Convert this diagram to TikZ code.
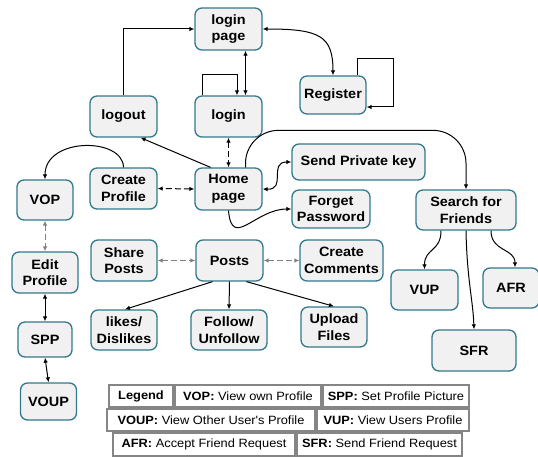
\documentclass[tikz,border=0pt]{standalone}
\usepackage{fontspec}
\setmainfont[FakeStretch=1.07]{Liberation Sans}
\usetikzlibrary{arrows.meta}

\definecolor{boxfill}{HTML}{F1F1F1}
\definecolor{boxline}{HTML}{33788C}
\definecolor{legline}{HTML}{858585}
\definecolor{dashgray}{HTML}{808080}

\tikzset{
  box/.style={draw=boxline, line width=1.3pt, fill=boxfill, rounded corners=7pt,
    align=center, inner sep=1pt, font=\bfseries\fontsize{13.5}{16.5}\selectfont},
  sz/.style 2 args={minimum width=#1pt, minimum height=#2pt},
  tip/.style={-{Latex[length=5pt,width=4.5pt]}},
  both/.style={{Latex[length=5pt,width=4.5pt]}-{Latex[length=5pt,width=4.5pt]}},
  conn/.style={line width=1pt, black},
  longdash/.style={dash pattern=on 6pt off 3pt},
  grayconn/.style={line width=1pt, dashgray, longdash},
  legbox/.style={draw=legline, line width=1.4pt, fill=white, inner sep=0pt,
    minimum height=22pt, font=\fontsize{12}{13}\selectfont}
}

\begin{document}
\begin{tikzpicture}[x=1pt, y=-1pt]
\useasboundingbox (0,0) rectangle (538,457);

% account pages
\node[box, sz={67}{42}] (lp)     at (228.5,29)  {login\\page};
\node[box, sz={66}{38}] (reg)    at (333,95)    {Register};
\node[box, sz={67}{41}] (logout) at (123.5,116.5) {logout};
\node[box, sz={67}{41}] (login)  at (228.5,116.5) {login};
\node[box, sz={67}{41}] (cp)     at (123.5,188.5) {Create\\Profile};
\node[box, sz={67}{42}] (home)   at (228.5,189) {Home\\page};
\node[box, sz={133}{36}] (spk)   at (358.5,162) {Send Private key};
\node[box, sz={78}{38}] (fp)     at (331,209)   {Forget\\Password};

% profile column
\node[box, sz={56}{40}] (vop)  at (45,200)    {VOP};
\node[box, sz={66}{41}] (ep)   at (45,272.5)  {Edit\\Profile};
\node[box, sz={54}{35}] (spp)  at (45,339.5)  {SPP};
\node[box, sz={56}{37}] (voup) at (48.5,401.5) {VOUP};

% posts
\node[box, sz={66}{41}] (sp)    at (124,260.5)   {Share\\Posts};
\node[box, sz={67}{41}] (posts) at (229.5,260.5) {Posts};
\node[box, sz={83}{41}] (cc)    at (341.5,260.5) {Create\\Comments};
\node[box, sz={66}{40}] (ld)    at (124,330)     {likes/\\Dislikes};
\node[box, sz={76}{40}] (fu)    at (229,330)     {Follow/\\Unfollow};
\node[box, sz={66}{40}] (uf)    at (334,327)     {Upload\\Files};

% friends
\node[box, sz={100}{40}] (sff) at (466,210)   {Search for\\Friends};
\node[box, sz={67}{40}]  (vup) at (424.5,290) {VUP};
\node[box, sz={56}{40}]  (afr) at (511,288)   {AFR};
\node[box, sz={84}{41}]  (sfr) at (474,350.5) {SFR};

% connectors: login area
\draw[conn,tip] (logout.north) |- (lp.west);
\draw[conn,both] ([xshift=17pt]lp.south) -- ([xshift=17pt]login.north);
\draw[conn,tip] ([xshift=-26pt]login.north) -- ++(0,-21) -| ([xshift=8.5pt]login.north);
\draw[conn,both,longdash] (login.south) -- (home.north);
\draw[conn,tip] ([xshift=-18pt]home.north) -- ([xshift=17pt]logout.south);
\draw[conn,both] (lp.east) .. controls (320,29) and (333,36) .. (reg.north);
\draw[conn,tip] ([xshift=24pt]reg.north) -- ++(0,-17) -- ++(36,0) |- ([yshift=-12pt]reg.east);

% connectors: home page
\draw[conn,both,longdash] (home.west) -- (cp.east);
\draw[conn,tip] (cp.north) .. controls (123,137) and (45,137) .. (vop.north);
\draw[conn,both] (home.east) .. controls (287,190) and (268,162) .. (spk.west);
\draw[conn,tip] (home.south) .. controls (232,250) and (255,209) .. (fp.west);
\draw[conn,tip,rounded corners=33pt] ([xshift=17pt]home.north) -- ++(0,-37) -| (sff.north);

% connectors: profile column
\draw[grayconn,both] (vop.south) -- (ep.north);
\draw[conn,both] (ep.south) -- (spp.north);
\draw[conn,both] (spp.south) -- (voup.north);

% connectors: posts
\draw[grayconn,both] (sp.east) -- (posts.west);
\draw[grayconn,both] (posts.east) -- (cc.west);
\draw[conn,tip] ([xshift=-17pt]posts.south) -- ([xshift=1pt]ld.north);
\draw[conn,tip] (posts.south) -- (fu.north);
\draw[conn,tip] ([xshift=17pt]posts.south) -- (uf.north);

% connectors: friends
\draw[conn,tip] ([xshift=-25pt]sff.south) .. controls (441,252) and (424.5,248) .. (vup.north);
\draw[conn,tip] (sff.south) .. controls (467,280) and (473,300) .. (sfr.north);
\draw[conn,tip] ([xshift=25pt]sff.south) .. controls (491,252) and (515,248) .. ([xshift=4pt]afr.north);

% legend
\node[legbox, minimum width=64pt]  (lg)    at (141,396)    {\textbf{Legend}};
\node[legbox, minimum width=146pt] (lvop)  at (248,396)    {\textbf{VOP:} View own Profile};
\node[legbox, minimum width=146pt] (lspp)  at (396,396)    {\textbf{SPP:} Set Profile Picture};
\node[legbox, minimum width=208pt] (lvoup) at (211,420)    {\textbf{VOUP:} View Other User\textquotesingle s Profile};
\node[legbox, minimum width=152pt] (lvup)  at (393,420)    {\textbf{VUP:} View Users Profile};
\node[legbox, minimum width=182pt, minimum height=23pt] (lafr) at (204,444.5) {\textbf{AFR:} Accept Friend Request};
\node[legbox, minimum width=165pt, minimum height=23pt] (lsfr) at (379.5,444.5) {\textbf{SFR:} Send Friend Request};
\end{tikzpicture}
\end{document}
